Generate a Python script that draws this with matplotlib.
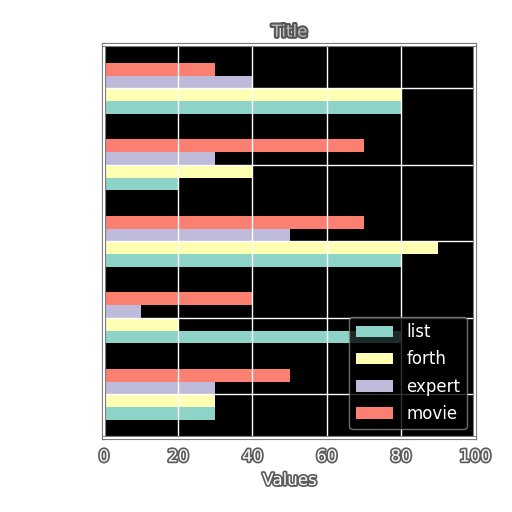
import numpy as np
import matplotlib.pyplot as plt
import matplotlib.patheffects as pe

# values per group, bottom group first
groups = ['A', 'B', 'C', 'D', 'E']
list_vals = [30, 80, 80, 20, 80]
forth_vals = [30, 20, 90, 40, 80]
expert_vals = [30, 10, 50, 30, 40]
movie_vals = [50, 40, 70, 70, 30]

series = [('list', list_vals), ('forth', forth_vals),
          ('expert', expert_vals), ('movie', movie_vals)]
colors = ['#8dd3c7', '#ffffb3', '#bebada', '#fb8072']

plt.style.use('dark_background')
halo = [pe.withStroke(linewidth=2.5, foreground='#333333', alpha=0.8)]

fig = plt.figure(figsize=(5.12, 5.12), dpi=100, facecolor='white')
ax = fig.add_axes([0.203, 0.145, 0.725, 0.767])
ax.set_facecolor('black')

y = np.arange(len(groups))
h = 0.167
for i, (name, vals) in enumerate(series):
    ax.barh(y + (i - 1.5) * h, vals, height=h, color=colors[i], label=name)

ax.set_xlim(0, 100)
ax.set_xticks([0, 20, 40, 60, 80, 100])
ax.set_yticks(y)
ax.set_yticklabels([])
ax.grid(True, color='white', lw=1)

for lbl in ax.get_xticklabels():
    lbl.set_path_effects(halo)
    lbl.set_fontsize(12)
ax.set_xlabel('Values', fontsize=12, color='white', path_effects=halo)
ax.set_title('Title', fontsize=12, color='#bbbbbb',
             path_effects=[pe.withStroke(linewidth=3, foreground='#555555')])

for sp in ax.spines.values():
    sp.set_color('white')
    sp.set_linewidth(1.5)
    sp.set_path_effects([pe.withStroke(linewidth=3, foreground='#777777')])

leg = ax.legend(loc='lower right', fontsize=12, framealpha=0.8,
                handlelength=2.2, labelspacing=0.55)
leg.get_frame().set_facecolor('black')
leg.get_frame().set_edgecolor('#888888')

fig.savefig('out.png', dpi=100, facecolor='white')
